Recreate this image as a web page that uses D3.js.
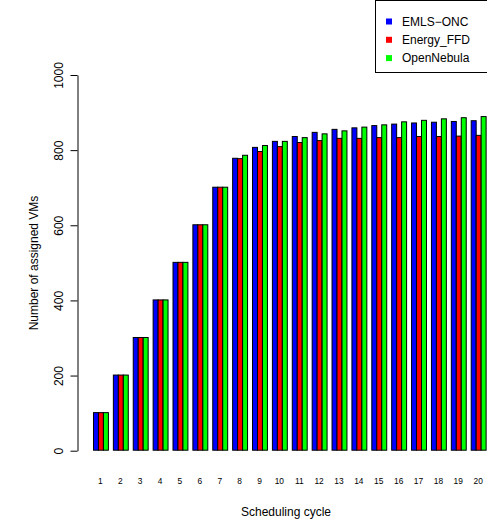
<!DOCTYPE html>
<html><head><meta charset="utf-8">
<script src="https://cdn.jsdelivr.net/npm/d3@7"></script>
<style>body{margin:0;background:#fff}svg{display:block;font-family:"Liberation Sans",Arial,sans-serif}</style>
</head><body>
<svg id="c" width="487" height="523"></svg>
<script>
const cycles = ["1","2","3","4","5","6","7","8","9","10","11","12","13","14","15","16","17","18","19","20"];
const seriesNames = ["EMLS\u2212ONC","Energy_FFD","OpenNebula"];
const seriesColors = ["#0000ff","#ff0000","#00ff00"];
const emlsOnc    = [100,200,300,400,500,600,700,777,806,822,835,846,854,858,864,868,871,873,875,877];
const energyFfd  = [100,200,300,400,500,600,700,776,795,808,819,824,830,830,832,832,835,835,836,838];
const openNebula = [100,200,300,400,500,600,700,785,811,822,832,842,850,860,866,874,878,882,885,888];
const yTicks = [0,200,400,600,800,1000];

const seriesValues = [emlsOnc, energyFfd, openNebula];
const svg = d3.select("#c");

const y = d3.scaleLinear().domain([0,1000]).range([450.7,75]);
const x0 = d3.scaleBand().domain(cycles).range([90.5,488.1]).paddingInner(0.25).paddingOuter(0.125);
const x1 = d3.scaleBand().domain(d3.range(3)).range([0,x0.bandwidth()]);

const groups = svg.append("g").selectAll("g").data(cycles).join("g")
  .attr("transform", d => `translate(${x0(d)},0)`);
groups.selectAll("rect").data((d,i) => seriesValues.map((s,k)=>({k, v:s[i]}))).join("rect")
  .attr("x", d => x1(d.k)+0.5)
  .attr("width", x1.bandwidth())
  .attr("y", d => y(d.v)-0.5)
  .attr("height", d => y(0)-y(d.v))
  .attr("fill", d => seriesColors[d.k])
  .attr("stroke", "#000").attr("stroke-width", 1);

// y axis
const ax = svg.append("g").attr("transform","translate(77.5,0)")
  .call(d3.axisLeft(y).tickValues(yTicks).tickSizeOuter(0).tickSizeInner(7).tickFormat(d3.format("d")));
ax.select(".domain").attr("stroke","#000");
ax.selectAll(".tick line").attr("stroke","#000");
ax.selectAll(".tick text")
  .attr("x",null).attr("dy",null)
  .attr("transform","translate(-15,0) rotate(-90)")
  .attr("text-anchor","middle").attr("font-size",12).attr("fill","#000")
  .attr("font-family","Liberation Sans, Arial, sans-serif");

// x labels
svg.append("g").selectAll("text").data(cycles).join("text")
  .attr("x", d => x0(d)+x0.bandwidth()/2).attr("y", 484)
  .attr("text-anchor","middle").attr("font-size",8.4).text(d=>d);

svg.append("text").attr("x",286).attr("y",516).attr("text-anchor","middle")
  .attr("font-size",12).text("Scheduling cycle");
svg.append("text").attr("transform","translate(38,263) rotate(-90)").attr("text-anchor","middle")
  .attr("font-size",12).text("Number of assigned VMs");

// legend
const lg = svg.append("g");
lg.append("rect").attr("x",375.5).attr("y",0.5).attr("width",120).attr("height",72)
  .attr("fill","#fff").attr("stroke","#000");
seriesNames.forEach((n,i)=>{
  const cy = 21.5 + i*18.3;
  lg.append("rect").attr("x",386).attr("y",cy-3).attr("width",6).attr("height",6).attr("fill",seriesColors[i]);
  lg.append("text").attr("x",402).attr("y",cy+4.3).attr("font-size",12).text(n);
});
</script>
</body></html>
